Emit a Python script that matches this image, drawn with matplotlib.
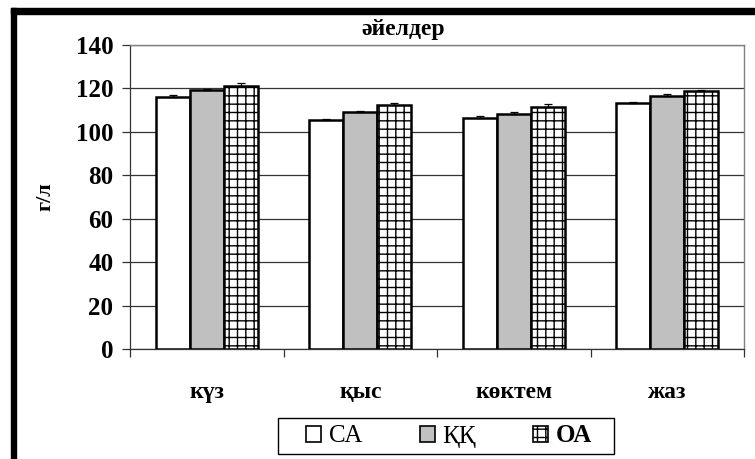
import matplotlib
matplotlib.use("Agg")
import matplotlib.pyplot as plt
import numpy as np
from matplotlib.patches import Rectangle

plt.rcParams['font.family'] = ['Liberation Serif', 'DejaVu Serif']
plt.rcParams['hatch.linewidth'] = 1.0

categories = ['күз', 'қыс', 'көктем', 'жаз']
series_names = ['СА', 'ҚҚ', 'ОА']
ca = [116.2, 105.5, 106.5, 113.4]
kk = [119.4, 109.2, 108.2, 116.5]
oa = [121.0, 112.4, 111.6, 118.7]
ca_err = [1.0, 0.5, 1.0, 0.5]
kk_err = [0.5, 0.5, 1.0, 1.0]
oa_err = [1.5, 1.0, 1.0, 0.5]
yticks = [0, 20, 40, 60, 80, 100, 120, 140]
title = 'әйелдер'
ylabel = 'г/л'

W, H = 755, 459
fig = plt.figure(figsize=(W / 100, H / 100), dpi=100)
ax = fig.add_axes([130 / W, 1 - 349 / H, (744 - 130) / W, (349 - 45) / H])

x = np.arange(len(categories))
bw = 0.222
styles = [dict(color='white', hatch=None), dict(color='#c0c0c0', hatch=None), dict(color='white', hatch='++')]
data = [ca, kk, oa]
errs = [ca_err, kk_err, oa_err]
handles = []
for i, (vals, e, st) in enumerate(zip(data, errs, styles)):
    b = ax.bar(x + (i - 1) * bw, vals, bw, color=st['color'], edgecolor='black', linewidth=1.8,
               hatch=st['hatch'], zorder=3, label=series_names[i])
    ax.errorbar(x + (i - 1) * bw, vals, yerr=[np.zeros(len(vals)), e], fmt='none', ecolor='black',
                elinewidth=0.9, capsize=3, capthick=0.9, zorder=4)
    handles.append(b)

ax.set_xlim(-0.5, len(categories) - 0.5)
ax.set_ylim(0, 140)
ax.set_yticks(yticks)
ax.yaxis.grid(True, color='#333333', linewidth=0.9, zorder=0)
ax.set_axisbelow(True)
ax.set_xticks(x)
ax.set_xticklabels(categories, fontsize=17, fontweight='bold')
ax.set_xticks(np.arange(len(categories) + 1) - 0.5, minor=True)
ax.tick_params(axis='x', which='major', length=0, pad=24)
ax.tick_params(axis='x', which='minor', length=6, width=0.9, direction='out', color='#333333')
ax.tick_params(axis='y', length=6, width=0.9, pad=6, labelsize=18, color='#333333')
for lab in ax.get_yticklabels():
    lab.set_fontweight('bold')
for side in ['top', 'right']:
    ax.spines[side].set_color('#808080')
    ax.spines[side].set_linewidth(1.0)
ax.spines['left'].set_color('#333333')
ax.spines['bottom'].set_color('#333333')
ax.spines['left'].set_linewidth(0.9)
ax.spines['bottom'].set_linewidth(0.9)

ax.set_ylabel(ylabel, fontsize=16, fontweight='bold')
ax.yaxis.set_label_coords(-(130 - 55) / (744 - 130), 0.5)

fig.text(403 / W, 1 - 30 / H, title, ha='center', va='center', fontsize=17, fontweight='bold')

leg = fig.legend(handles=handles, labels=series_names, loc='center', bbox_to_anchor=(449 / W, 1 - 436 / H),
                 ncol=3, fontsize=18, frameon=False, handlelength=0.6, handleheight=0.6,
                 handletextpad=0.3, columnspacing=2.3, borderpad=0.25, borderaxespad=0)
for t, wgt in zip(leg.get_texts(), ['normal', 'normal', 'bold']):
    t.set_fontweight(wgt)
for p in leg.get_patches():
    p.set_linewidth(1.2)
# legend box
fig.add_artist(Rectangle((278 / W, 1 - 454 / H), (614 - 278) / W, 36 / H, transform=fig.transFigure,
                         facecolor='none', edgecolor='black', linewidth=1.0, zorder=5))

# black frame along left and top
fig.add_artist(Rectangle((11 / W, 0), 5 / W, 1 - 8 / H, transform=fig.transFigure, color='black', zorder=10))
fig.add_artist(Rectangle((11 / W, 1 - 14 / H), 1 - 11 / W, 6 / H, transform=fig.transFigure, color='black', zorder=10))

fig.savefig('out.png', dpi=100)
